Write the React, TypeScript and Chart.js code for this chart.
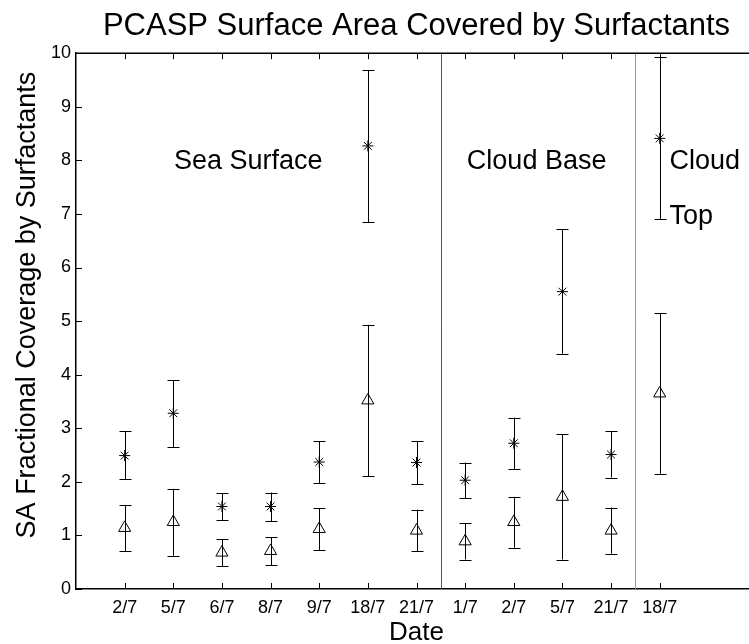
import React, { useEffect, useRef } from 'react';
import { Chart, registerables } from 'chart.js';

Chart.register(...registerables);

// ---- Data ----
const categories = ['2/7', '5/7', '6/7', '8/7', '9/7', '18/7', '21/7', '1/7', '2/7', '5/7', '21/7', '18/7'];
const xPositions = [1, 2, 3, 4, 5, 6, 7, 8, 9, 10, 11, 12];

const starMean = [2.49, 3.28, 1.54, 1.54, 2.37, 8.27, 2.36, 2.03, 2.72, 5.55, 2.51, 8.41];
const starLow = [2.05, 2.65, 1.28, 1.27, 1.98, 6.85, 1.96, 1.69, 2.24, 4.39, 2.08, 6.90];
const starHigh = [2.94, 3.90, 1.79, 1.80, 2.76, 9.68, 2.76, 2.36, 3.20, 6.72, 2.94, 9.92];

const triMean = [1.14, 1.25, 0.68, 0.71, 1.12, 3.52, 1.09, 0.89, 1.25, 1.72, 1.09, 3.65];
const triLow = [0.70, 0.62, 0.43, 0.44, 0.73, 2.10, 0.70, 0.55, 0.77, 0.55, 0.66, 2.15];
const triHigh = [1.57, 1.87, 0.93, 0.97, 1.51, 4.93, 1.48, 1.23, 1.72, 2.89, 1.52, 5.15];

const yTicks = [0, 1, 2, 3, 4, 5, 6, 7, 8, 9, 10];
const dividers = [7.5, 11.5];
const dividerColors = ['#555', '#999'];

const regionLabels = [
  { text: 'Sea Surface', x: 3.54, y: 7.97, align: 'center' },
  { text: 'Cloud Base', x: 9.47, y: 7.97, align: 'center' },
  { text: 'Cloud', x: 12.2, y: 7.97, align: 'left' },
  { text: 'Top', x: 12.2, y: 6.96, align: 'left' },
];

const yAxisTitle = 'SA Fractional Coverage by Surfactants';

const FONT = "'Liberation Sans', Arial, Helvetica, sans-serif";

// The figure's axes box runs slightly past the right edge of the picture.
const CANVAS_W = 757;
const VIEW_W = 749;
const VIEW_H = 644;

export default function App() {
  const ref = useRef<HTMLCanvasElement>(null);

  useEffect(() => {
    const canvas = ref.current;
    if (!canvas) return;

    const errorBarPlugin = {
      id: 'errorBars',
      beforeDatasetsDraw(chart: any) {
        const { ctx, scales } = chart;
        const xs = scales.x;
        const ys = scales.y;
        ctx.save();
        ctx.strokeStyle = '#000';
        ctx.lineWidth = 1;
        const cap = 6;
        const drawBar = (x: number, lo: number, hi: number) => {
          const px = Math.round(xs.getPixelForValue(x)) + 0.5;
          const pl = ys.getPixelForValue(lo);
          const ph = ys.getPixelForValue(hi);
          ctx.beginPath();
          ctx.moveTo(px, pl);
          ctx.lineTo(px, ph);
          ctx.moveTo(px - cap, Math.round(pl) + 0.5);
          ctx.lineTo(px + cap, Math.round(pl) + 0.5);
          ctx.moveTo(px - cap, Math.round(ph) + 0.5);
          ctx.lineTo(px + cap, Math.round(ph) + 0.5);
          ctx.stroke();
        };
        xPositions.forEach((x, i) => {
          drawBar(x, starLow[i], starHigh[i]);
          drawBar(x, triLow[i], triHigh[i]);
        });
        ctx.restore();
      },
    };

    const framePlugin = {
      id: 'frame',
      afterDraw(chart: any) {
        const { ctx, chartArea, scales } = chart;
        const xs = scales.x;
        const ys = scales.y;
        ctx.save();
        // dividers
        dividers.forEach((d, i) => {
          const px = Math.round(xs.getPixelForValue(d)) + 0.5;
          ctx.strokeStyle = dividerColors[i];
          ctx.lineWidth = 1;
          ctx.beginPath();
          ctx.moveTo(px, ys.getPixelForValue(0));
          ctx.lineTo(px, ys.getPixelForValue(10));
          ctx.stroke();
        });
        // top frame
        ctx.strokeStyle = '#000';
        ctx.lineWidth = 1.5;
        ctx.beginPath();
        ctx.moveTo(chartArea.left, chartArea.top);
        ctx.lineTo(chartArea.right, chartArea.top);
        ctx.stroke();
        // inward ticks
        ctx.lineWidth = 1;
        const tl = 6;
        ctx.beginPath();
        xPositions.forEach((x) => {
          const px = Math.round(xs.getPixelForValue(x)) + 0.5;
          ctx.moveTo(px, chartArea.bottom);
          ctx.lineTo(px, chartArea.bottom - tl);
          ctx.moveTo(px, chartArea.top);
          ctx.lineTo(px, chartArea.top + tl);
        });
        yTicks.forEach((v) => {
          const py = Math.round(ys.getPixelForValue(v)) + 0.5;
          ctx.moveTo(chartArea.left, py);
          ctx.lineTo(chartArea.left + tl, py);
        });
        ctx.stroke();
        // region labels
        ctx.fillStyle = '#000';
        ctx.font = `27px ${FONT}`;
        ctx.textBaseline = 'middle';
        regionLabels.forEach((r) => {
          ctx.textAlign = r.align as CanvasTextAlign;
          ctx.fillText(r.text, xs.getPixelForValue(r.x), ys.getPixelForValue(r.y));
        });
        // y axis title
        ctx.save();
        ctx.translate(28, ys.getPixelForValue(5.3));
        ctx.rotate(-Math.PI / 2);
        ctx.textAlign = 'center';
        ctx.textBaseline = 'middle';
        ctx.font = `27px ${FONT}`;
        ctx.fillText(yAxisTitle, 0, 0);
        ctx.restore();
        ctx.restore();
      },
    };

    const chart = new Chart(canvas, {
      type: 'scatter',
      data: {
        datasets: [
          {
            label: 'Star',
            data: xPositions.map((x, i) => ({ x, y: starMean[i] })),
            pointStyle: 'star',
            pointRadius: 5.5,
            borderColor: '#000',
            backgroundColor: 'rgba(0,0,0,0)',
            borderWidth: 1,
          },
          {
            label: 'Triangle',
            data: xPositions.map((x, i) => ({ x, y: triMean[i] })),
            pointStyle: 'triangle',
            pointRadius: 7,
            borderColor: '#000',
            backgroundColor: 'rgba(0,0,0,0)',
            borderWidth: 1,
          },
        ],
      },
      options: {
        responsive: false,
        devicePixelRatio: 1,
        animation: false,
        layout: { padding: 0, autoPadding: false },
        plugins: {
          legend: { display: false },
          tooltip: { enabled: false },
          title: {
            display: true,
            text: 'PCASP Surface Area Covered by Surfactants',
            fullSize: false,
            color: '#000',
            font: { family: FONT, size: 31, weight: 'normal', lineHeight: 1.2 },
            padding: { top: 8, bottom: 8 },
          },
        },
        scales: {
          x: {
            type: 'linear',
            min: 0,
            max: 14,
            afterFit: (scale: any) => {
              scale.height = 55;
            },
            afterBuildTicks: (scale: any) => {
              scale.ticks = xPositions.map((v) => ({ value: v }));
            },
            ticks: {
              autoSkip: false,
              maxRotation: 0,
              color: '#000',
              font: { family: FONT, size: 18 },
              padding: 8,
              callback: (_v: any, index: number) => categories[index] ?? '',
            },
            grid: { display: false, drawTicks: false },
            border: { display: true, color: '#000', width: 1.5 },
            title: {
              display: true,
              text: 'Date',
              color: '#000',
              font: { family: FONT, size: 26, lineHeight: 0.85 },
              padding: { top: 0, bottom: 0 },
            },
          },
          y: {
            type: 'linear',
            min: 0,
            max: 10,
            afterFit: (scale: any) => {
              scale.width = 76;
            },
            ticks: {
              stepSize: 1,
              color: '#000',
              font: { family: FONT, size: 18 },
              padding: 5,
            },
            grid: { display: false, drawTicks: false },
            border: { display: true, color: '#000', width: 1.5 },
            title: { display: false },
          },
        },
      },
      plugins: [errorBarPlugin, framePlugin],
    } as any);

    return () => chart.destroy();
  }, []);

  return (
    <div
      style={{
        position: 'fixed',
        left: 0,
        top: 0,
        width: VIEW_W,
        height: VIEW_H,
        overflow: 'hidden',
        background: '#fff',
      }}
    >
      <canvas
        ref={ref}
        width={CANVAS_W}
        height={VIEW_H}
        style={{ width: CANVAS_W, height: VIEW_H, display: 'block' }}
      />
    </div>
  );
}
